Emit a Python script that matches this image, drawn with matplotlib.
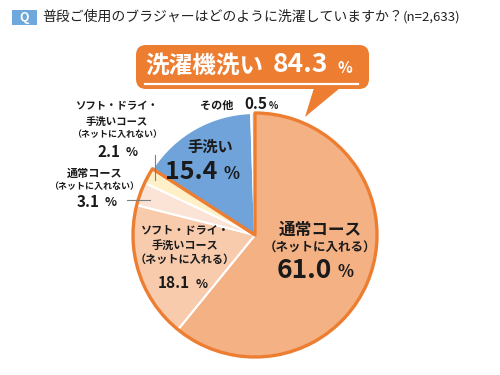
import matplotlib
matplotlib.use('Agg')
import matplotlib.pyplot as plt
from matplotlib.patches import Wedge, FancyBboxPatch, Polygon, Rectangle
from matplotlib.lines import Line2D
import numpy as np

plt.rcParams['font.family'] = ['Noto Sans CJK JP', 'DejaVu Sans']

# data
slice_names = ['通常コース\n（ネットに入れる）',
               'ソフト・ドライ・\n手洗いコース\n（ネットに入れる）',
               '通常コース\n（ネットに入れない）',
               'ソフト・ドライ・\n手洗いコース\n（ネットに入れない）',
               '手洗い',
               'その他']
values = [61.0, 18.1, 3.1, 2.1, 15.4, 0.5]
colors = ['#F4B183', '#F8CBAD', '#FBE3D6', '#FFF0C8', '#6FA3DA', '#E4E4E4']
machine_total = 84.3
machine_label = '洗濯機洗い'
title = '普段ご使用のブラジャーはどのように洗濯していますか？'
n_text = '(n=2,633)'

ORANGE = '#ED7D31'
W, H = 500, 375


def Y(y):
    # pixel row -> data y
    return H - y


fig = plt.figure(figsize=(5, 3.75), dpi=100)
ax = fig.add_axes([0, 0, 1, 1])

# pie
cx, cy, r = 255, Y(235), 122
wedges, _ = ax.pie(values, colors=colors, startangle=90, counterclock=False,
                   center=(cx, cy), radius=r, frame=True,
                   wedgeprops=dict(edgecolor='white', linewidth=1.5))
ax.set_xlim(0, W)
ax.set_ylim(0, H)
ax.set_aspect('equal')
ax.axis('off')

# orange outline around the machine wash group
n_machine = 4
start = wedges[n_machine - 1].theta1
ax.add_patch(Wedge((cx, cy), r, start, 450, fill=False, edgecolor=ORANGE, lw=2.4,
                   joinstyle='round'))

# title
ax.add_patch(Rectangle((12, Y(25)), 25, 15, color='#6FA8DC', lw=0))
ax.text(24.5, Y(17), 'Q', color='white', fontsize=9, fontweight='bold',
        ha='center', va='center')
ax.text(42, Y(17), title, fontsize=10, ha='left', va='center', color='#222222')
ax.text(403, Y(17.5), n_text, fontsize=9.5, ha='left', va='center', color='#222222')

# callout box
ax.add_patch(FancyBboxPatch((136, Y(89)), 233, 44,
                            boxstyle='round,pad=0,rounding_size=10',
                            fc=ORANGE, ec='none'))
ax.add_patch(Polygon([(314, Y(88)), (340, Y(88)), (305, Y(117))],
                     closed=True, fc=ORANGE, ec='none'))
ax.text(145, Y(66), machine_label, color='white', fontsize=17, fontweight='bold',
        ha='left', va='center', zorder=6)
ax.text(273, Y(65), f'{machine_total:.1f}', color='white', fontsize=19,
        fontweight='bold', ha='left', va='center', zorder=6)
ax.text(338, Y(68), '%', color='white', fontsize=11, fontweight='bold',
        ha='left', va='center', zorder=6)
# underline
fig.add_artist(Line2D([145 / W, 358 / W], [1 - 84 / H, 1 - 84 / H],
                      transform=fig.transFigure, color='white', lw=1.6, zorder=10))

# slice labels
txt = '#1A1A1A'
# 61.0
ax.text(320, Y(230), '通常コース', fontsize=12, fontweight='bold', ha='center',
        va='center', color=txt)
ax.text(320, Y(248), '（ネットに入れる）', fontsize=9, fontweight='bold', ha='center',
        va='center', color=txt)
ax.text(332, Y(270), f'{values[0]:.1f}', fontsize=19, fontweight='bold', ha='right',
        va='center', color=txt)
ax.text(338, Y(272), '%', fontsize=12, fontweight='bold', ha='left', va='center', color=txt)

# 18.1
ax.text(185, Y(245), slice_names[1], fontsize=8, fontweight='bold', ha='center',
        va='center', color=txt, linespacing=1.15)
ax.text(190, Y(283), f'{values[1]:.1f}', fontsize=11, fontweight='bold', ha='right',
        va='center', color=txt)
ax.text(196, Y(284), '%', fontsize=9, fontweight='bold', ha='left', va='center', color=txt)

# 3.1
ax.text(95, Y(173), '通常コース', fontsize=8, fontweight='bold', ha='center',
        va='center', color=txt)
ax.text(94, Y(186), '（ネットに入れない）', fontsize=6.5, fontweight='bold', ha='center',
        va='center', color=txt)
ax.text(100, Y(202), f'{values[2]:.1f}', fontsize=11, fontweight='bold', ha='right',
        va='center', color=txt)
ax.text(105, Y(203), '%', fontsize=9, fontweight='bold', ha='left', va='center', color=txt)
ax.plot([127, 150], [Y(200), Y(200)], color='#7F7F7F', lw=0.8)

# 2.1
ax.text(117, Y(106), 'ソフト・ドライ・', fontsize=7.5, fontweight='bold', ha='center',
        va='center', color=txt)
ax.text(117, Y(122), '手洗いコース', fontsize=7.5, fontweight='bold', ha='center',
        va='center', color=txt)
ax.text(117, Y(135), '（ネットに入れない）', fontsize=6.5, fontweight='bold', ha='center',
        va='center', color=txt)
ax.text(120, Y(152), f'{values[3]:.1f}', fontsize=11, fontweight='bold', ha='right',
        va='center', color=txt)
ax.text(126, Y(153), '%', fontsize=9, fontweight='bold', ha='left', va='center', color=txt)
ax.plot([155, 155], [Y(155), Y(180)], color='#7F7F7F', lw=0.8)

# 15.4
ax.text(210, Y(147), slice_names[4], fontsize=11, fontweight='bold', ha='center',
        va='center', color=txt)
ax.text(217, Y(172), f'{values[4]:.1f}', fontsize=18, fontweight='bold', ha='right',
        va='center', color=txt)
ax.text(224, Y(174), '%', fontsize=12, fontweight='bold', ha='left', va='center', color=txt)

# 0.5
ax.text(217, Y(105), slice_names[5], fontsize=8, fontweight='bold', ha='center',
        va='center', color=txt)
ax.text(267, Y(104), f'{values[5]:.1f}', fontsize=11, fontweight='bold', ha='right',
        va='center', color=txt)
ax.text(269, Y(106), '%', fontsize=7, fontweight='bold', ha='left', va='center', color=txt)

fig.savefig('out.png', dpi=100, facecolor='white')
